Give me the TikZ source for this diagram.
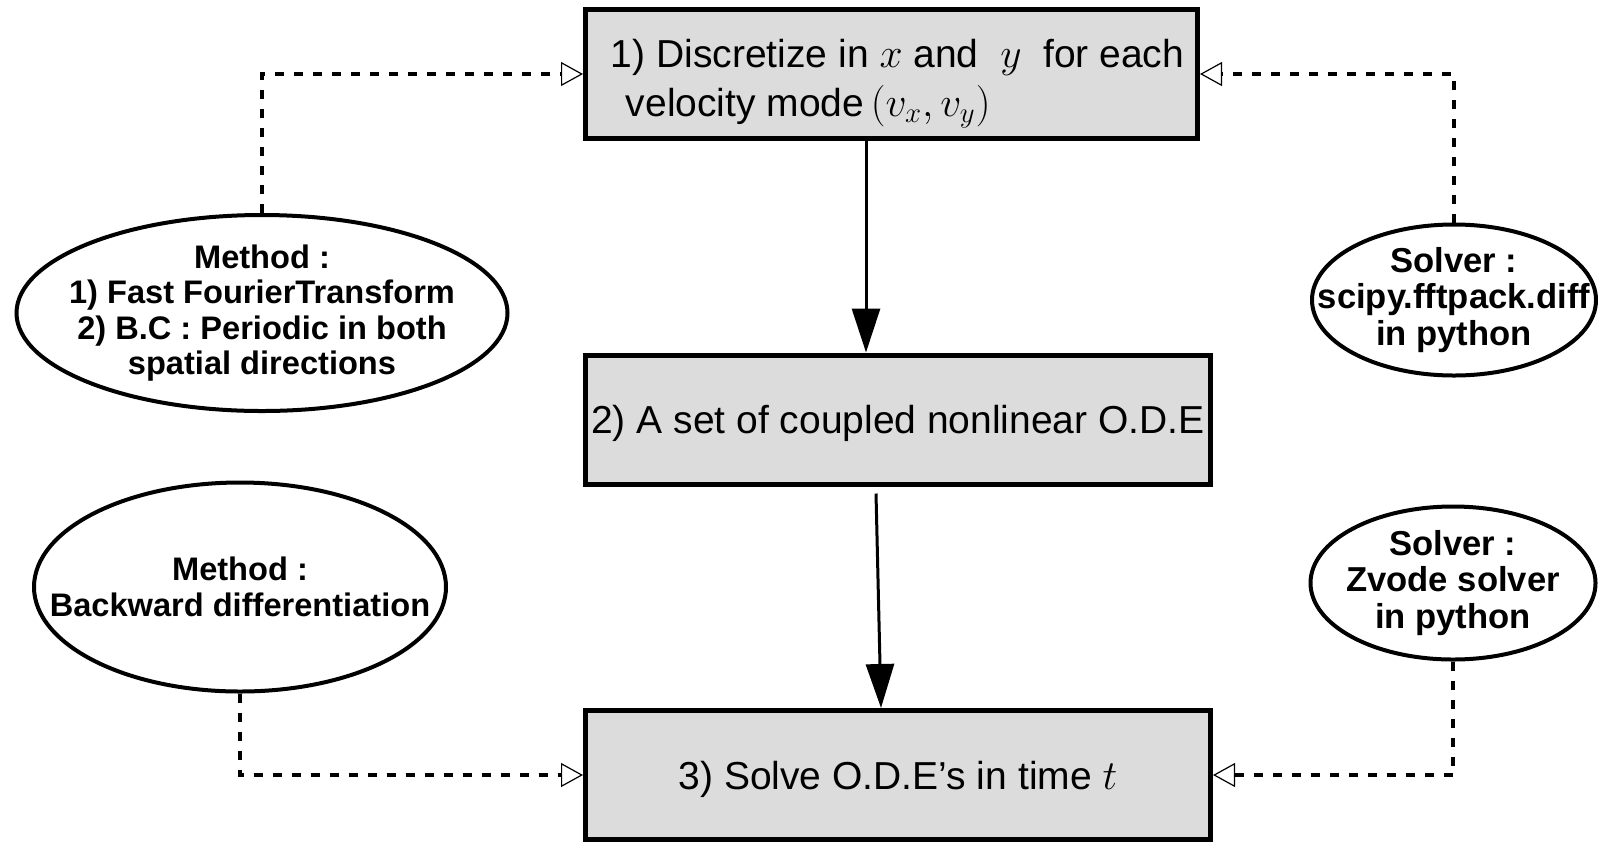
\documentclass[tikz,border=0pt]{standalone}
\usepackage{fontspec}
\setmainfont{Liberation Sans}
\usetikzlibrary{arrows.meta,shapes.geometric}

\definecolor{boxgray}{RGB}{220,220,220}

\tikzset{
  stepbox/.style={draw, line width=2.5pt, fill=boxgray, minimum height=64.5pt,
    inner sep=0pt, text depth=0pt, font=\fontsize{19.5}{24.5}\selectfont},
  info/.style={draw, ellipse, line width=2pt, inner xsep=-40pt, inner ysep=-20pt,
    align=center, font=\bfseries\fontsize{16.3}{17.8}\selectfont},
  flow/.style={line width=1.5pt, -{Triangle[width=14pt,length=22pt]}},
  link/.style={line width=2pt, dash pattern=on 4.5pt off 5pt,
    -{Triangle[open,fill=white,width=12pt,length=11pt,line width=0.6pt]}},
}

\begin{document}
\begin{tikzpicture}[x=0.5pt,y=-0.5pt]
  \useasboundingbox (0,0) rectangle (1598,847);

  % main steps
  \node[stepbox, minimum width=306pt, align=left] (disc) at (891.5,74)
    {\hspace{6pt}\rule{0pt}{18pt}1) Discretize in $x$ and\ \ $y$\ \ for each\\\hspace{13.5pt}velocity mode\,$(v_x, v_y)$};
  \node[stepbox, minimum width=312.5pt] (ode) at (898,419.5)
    {2) A set of coupled nonlinear O.D.E};
  \node[stepbox, minimum width=312.5pt] (solve) at (898,775)
    {3) Solve O.D.E’s in time $t$};

  % methods and solvers
  \node[info, minimum width=245.5pt, minimum height=98pt] (fft) at (262,313)
    {Method :\\1) Fast FourierTransform\\2) B.C : Periodic in both\\spatial directions};
  \node[info, minimum width=142pt, minimum height=75.5pt,
        font=\bfseries\fontsize{17.3}{18.3}\selectfont] (scipy) at (1454,300)
    {Solver :\\scipy.fftpack.diff\\in python};
  \node[info, minimum width=206pt, minimum height=104.5pt] (bdf) at (240,587)
    {Method :\\Backward differentiation};
  \node[info, minimum width=142.5pt, minimum height=76.5pt,
        font=\bfseries\fontsize{17.3}{18.3}\selectfont] (zvode) at (1453,583)
    {Solver :\\Zvode solver\\in python};

  \draw[flow] ([xshift=-12.75pt]disc.south) -- ([xshift=-16pt]ode.north);
  \draw[flow] ([xshift=-11pt,yshift=-3.5pt]ode.south) -- ([xshift=-8.5pt]solve.north);

  \draw[link] (fft.north) |- (disc.west);
  \draw[link] (scipy.north) |- (disc.east);
  \draw[link] (bdf.south) |- (solve.west);
  \draw[link] (zvode.south) |- (solve.east);
\end{tikzpicture}
\end{document}
